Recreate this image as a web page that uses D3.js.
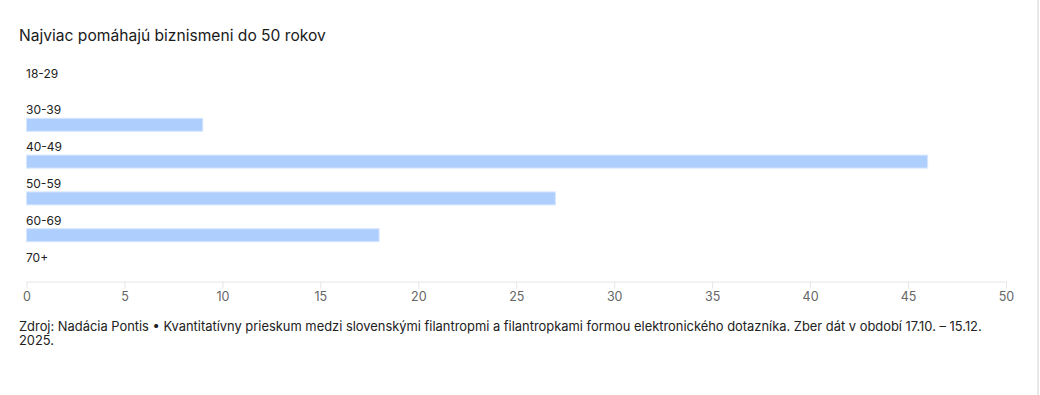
<!DOCTYPE html>
<html>
<head>
<meta charset="utf-8">
<script src="https://cdn.jsdelivr.net/npm/d3@7"></script>
<style>
  body { margin: 0; background: #fff; font-family: Inter, "Liberation Sans", sans-serif; }
  svg { display: block; }
</style>
</head>
<body>
<div id="chart"></div>
<script>
// --- data ---
const ageGroups = ['18-29', '30-39', '40-49', '50-59', '60-69', '70+'];
const values = [0, 9, 46, 27, 18, 0];
const xTicks = [0, 5, 10, 15, 20, 25, 30, 35, 40, 45, 50];
const title = 'Najviac pomáhajú biznismeni do 50 rokov';
const sourceLines = [
  'Zdroj: Nadácia Pontis • Kvantitatívny prieskum medzi slovenskými filantropmi a filantropkami formou elektronického dotazníka. Zber dát v období 17.10. – 15.12.',
  '2025.'
];

const width = 1040, height = 395;
const margin = { left: 26.5, right: 34 };

const svg = d3.select('#chart').append('svg')
  .attr('width', width)
  .attr('height', height);

// right border strip
svg.append('rect')
  .attr('x', 1037).attr('y', 0)
  .attr('width', 2).attr('height', height)
  .attr('fill', '#e8e8e8');

svg.append('text')
  .attr('x', 19).attr('y', 41)
  .attr('font-size', 15.6)
  .attr('fill', '#1a1a1a')
  .text(title);

const x = d3.scaleLinear()
  .domain([0, 50])
  .range([margin.left, width - margin.right]);

// row positions: label on top, bar below it
const rowY = d3.scalePoint()
  .domain(ageGroups)
  .range([60, 244]);

const rows = svg.selectAll('.row')
  .data(ageGroups.map((g, i) => ({ group: g, value: values[i] })))
  .enter().append('g')
    .attr('class', 'row')
    .attr('transform', d => `translate(0,${rowY(d.group)})`);

rows.append('text')
  .attr('x', 26)
  .attr('y', 17.5)
  .attr('font-size', 12)
  .attr('fill', '#222')
  .text(d => d.group);

rows.filter(d => d.value > 0).append('rect')
  .attr('x', x(0))
  .attr('y', 21.5)
  .attr('width', d => x(d.value) - x(0))
  .attr('height', 13)
  .attr('fill', '#aecffd')
  .attr('stroke', '#d8e7fe')
  .attr('stroke-width', 1);

// x axis
const axis = svg.append('g')
  .attr('transform', 'translate(0,281.5)')
  .call(d3.axisBottom(x).tickValues(xTicks).tickSize(7).tickPadding(4).tickSizeOuter(0));

axis.select('.domain').attr('stroke', '#e6e6e6');
axis.selectAll('.tick line').attr('stroke', '#e6e6e6');
axis.selectAll('.tick text')
  .attr('font-size', 12.5)
  .attr('font-family', 'Inter, "Liberation Sans", sans-serif')
  .attr('fill', '#666');

// source
svg.append('g').selectAll('text')
  .data(sourceLines)
  .enter().append('text')
    .attr('x', 19)
    .attr('y', (d, i) => 331 + i * 14)
    .attr('font-size', 12.9)
    .attr('fill', '#222')
    .text(d => d);
</script>
</body>
</html>
